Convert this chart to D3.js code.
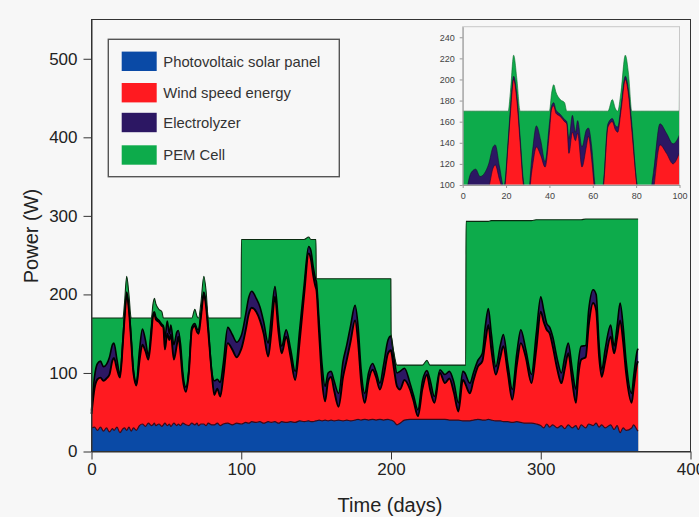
<!DOCTYPE html>
<html><head><meta charset="utf-8">
<script src="https://cdn.jsdelivr.net/npm/d3@7"></script>
<style>body{margin:0;background:#f7f7f7;} svg{display:block;}</style>
</head><body><svg id="c" width="699" height="517"></svg>
<script>
// ---- DATA ----
const days = [
  0,2,4,6,8,10,12,14,15,17,19,21,22,23.5,25,26.5,28,30,
  32,34,36,38,40,41,42,43,45,47,48,49,50.6,52,53,55,57,58,59.5,61,
  63,65,67,69,70.5,71.5,73,75,76.5,78,80.3,82,84,86,88,91,94,97,99.9,100.1,
  103,105,107,110,112.5,115,118,120,122.5,125,127,130,133,136,139,142,145,146.5,148,149.9,150.1,
  152,154,156,158,160,162,165,168,170.5,173,176,178,180,182.5,185,187.7,190,192.6,195,198,199.9,200.1,
  202,204,206,209,212.7,215,218,221,224,226,229,232.7,236,239,242,245,248,249.9,250.1,
  252.7,255,258,261,263,265,267,270,273,275,278,281,284,286.7,290,293.8,297,
  300,302,304,306,308,311,313.8,316,318.4,321,323.5,325,327,330,332,335,337,339,340.7,343,346.7,349,351,353,355,357,360.7,362,364.5,365
];
const solar = [
  30,31,27,31,26,30,25,29,27,31,24,29,30,27,31,26,30,27,
  33,35,32,36,33,34,36,33,35,32,34,36,33,35,32,36,33,35,33,36,
  34,33,36,34,36,33,35,35,33,36,34,34,36,33,35,36,34,36,35,35,
  37,36,38,37,38,36,38,37,38,36,38,37,38,37,39,38,39,38,38,39,39,
  40,39,40,39,40,39,40,39,40,39,40,41,40,41,40,41,40,41,40,41,40,40,
  38,34,36,40,41,41,41,41,41,41,41,41,41,40,40,40,39,39,39,
  39,40,41,40,40,41,40,39,39,38,38,37,38,37,36,36,35,
  33,30,35,31,34,30,33,29,34,30,33,28,34,30,35,33,36,31,34,30,34,28,33,24,30,27,30,34,27,26
];
const wind = [
  18,49,65,63,64,63,73,87,92,74,70,111,138,173,149,114,70,57,
  82,101,96,81,117,138,139,135,130,128,124,94,117,107,117,81,103,111,91,56,
  42,67,119,126,116,117,135,165,152,116,66,38,44,37,60,102,96,84,95,96,
  118,139,145,141,129,114,83,113,159,114,87,109,82,54,101,162,213,207,187,169,168,
  110,51,24,51,55,39,17,56,77,101,127,99,50,21,50,63,55,38,55,84,89,88,
  67,49,43,51,38,24,4,39,57,39,21,59,46,53,35,11,52,46,45,
  35,50,67,75,100,120,90,59,81,96,62,29,72,101,84,51,95,
  145,135,120,119,100,75,54,76,91,60,29,67,83,90,125,156,144,89,61,85,112,97,112,143,110,73,32,46,86,89
];
const electrolyzer = [
  4,15,20,21,18,18,22,20,19,12,4,3,4,3,4,5,4,4,
  13,20,14,5,8,3,3,3,2,2,2,14,16,8,12,19,16,8,12,8,
  6,4,3,3,4,5,4,3,4,6,2,18,12,18,17,20,19,19,17,17,
  20,21,21,17,17,15,17,20,13,12,9,9,10,11,15,12,9,11,11,10,10,
  15,20,19,10,7,12,17,20,19,20,19,20,15,12,10,8,7,8,15,17,18,18,
  15,17,23,15,8,7,8,10,5,12,8,4,11,9,13,11,11,13,13,
  13,10,8,10,20,21,20,10,15,15,12,13,15,17,10,11,20,
  19,15,8,8,12,13,13,15,13,15,17,17,17,15,20,17,20,15,9,15,15,9,15,22,20,15,12,15,16,16
];
const pemCell = [
  118,75,58,55,62,59,50,34,32,53,72,27,16,20,16,25,66,82,
  42,14,28,48,12,12,17,17,14,16,10,26,4,20,9,34,18,16,34,70,
  88,66,12,18,16,15,14,20,16,12,68,80,78,82,58,12,21,31,23,122,
  95,74,66,75,86,105,132,100,60,108,136,115,140,168,115,58,12,14,34,52,3,
  55,110,137,120,118,130,146,105,84,60,34,60,115,146,120,108,118,133,110,78,73,4,
  5,10,8,4,23,38,57,20,13,18,40,6,12,8,22,48,8,12,196,
  206,193,177,168,133,111,144,186,159,145,182,215,169,139,164,196,145,
  98,115,132,137,149,177,195,175,157,190,216,183,161,161,116,90,96,161,192,166,135,162,136,107,136,181,222,201,167,165
];
const seriesNames = ["Photovoltaic solar panel","Wind speed energy","Electrolyzer","PEM Cell"];
const yTicks = [0,100,200,300,400,500];
const xTicks = [0,100,200,300,400];
const insetYTicks = [100,120,140,160,180,200,220,240];
const insetXTicks = [0,20,40,60,80,100];

// ---- STYLE ----
const FONT = "'Liberation Sans', Arial, Helvetica, sans-serif";
const colors = ["#0a4aa6","#ff1a20","#2c1763","#0dab4b"];
const lineColors = ["#3b0a18","#000000","#000000","#0a2a10"];
const lineWidths = [1.2,1.9,1.6,1.1];
const BG = "#f7f7f7";

const svg = d3.select("#c");
svg.append("rect").attr("width",699).attr("height",517).attr("fill",BG);

const keys = ["solar","wind","electrolyzer","pem"];
const rows = days.map((d,i)=>({day:d, solar:solar[i], wind:wind[i], electrolyzer:electrolyzer[i], pem:pemCell[i]}));
const stacked = d3.stack().keys(keys)(rows);

// ---- MAIN CHART ----
const x = d3.scaleLinear().domain([0,400]).range([91.5,690.5]);
const y = d3.scaleLinear().domain([0,550]).range([451.5,19.5]);

const main = svg.append("g");
for (let i=3;i>=0;i--) {
  main.append("path").datum(stacked[i]).attr("fill",colors[i])
    .attr("d", d3.area().x(d=>x(d.data.day)).y0(y(0)).y1(d=>y(d[1])).curve(d3.curveMonotoneX));
}
for (let i=0;i<4;i++) {
  main.append("path").datum(stacked[i]).attr("fill","none")
    .attr("stroke",lineColors[i]).attr("stroke-width",lineWidths[i]).attr("stroke-linejoin","round")
    .attr("d", d3.line().x(d=>x(d.data.day)).y(d=>y(d[1])).curve(d3.curveMonotoneX));
}

// frame
svg.append("rect").attr("x",x(0)).attr("y",y(550)).attr("width",x(400)-x(0)).attr("height",y(0)-y(550))
  .attr("fill","none").attr("stroke","#333").attr("stroke-width",1);

const ya = svg.append("g").attr("transform",`translate(${x(0)},0)`)
  .call(d3.axisLeft(y).tickValues(yTicks).tickSize(8).tickSizeOuter(0).tickPadding(6).tickFormat(d3.format("d")));
ya.attr("font-family",FONT).attr("font-size",17);
ya.selectAll("text").attr("fill","#222");
ya.selectAll("line,path").attr("stroke","#333");

const xa = svg.append("g").attr("transform",`translate(0,${y(0)})`)
  .call(d3.axisBottom(x).tickValues(xTicks).tickSize(8).tickSizeOuter(0).tickPadding(3).tickFormat(d3.format("d")));
xa.attr("font-family",FONT).attr("font-size",17);
xa.selectAll("text").attr("fill","#222");
xa.selectAll("line,path").attr("stroke","#333");

svg.append("text").attr("transform","translate(38,236) rotate(-90)").attr("text-anchor","middle")
  .attr("font-family",FONT).attr("font-size",20).attr("fill","#222").text("Power (W)");
svg.append("text").attr("x",390).attr("y",512).attr("text-anchor","middle")
  .attr("font-family",FONT).attr("font-size",20).attr("fill","#222").text("Time (days)");

// ---- LEGEND ----
const lg = svg.append("g");
lg.append("rect").attr("x",108.3).attr("y",39.3).attr("width",231).attr("height",137.4)
  .attr("fill",BG).attr("stroke","#555").attr("stroke-width",1.4);
const rowY = [61.3,92.7,122.5,155];
seriesNames.forEach((n,i)=>{
  lg.append("rect").attr("x",121.7).attr("y",rowY[i]-9.7).attr("width",35).attr("height",19.4).attr("fill",colors[i]);
  lg.append("text").attr("x",163.3).attr("y",rowY[i]).attr("dy","0.36em")
    .attr("font-family",FONT).attr("font-size",14.8).attr("fill","#333").text(n);
});

// ---- INSET ----
const xi = d3.scaleLinear().domain([0,100]).range([462.7,679.5]);
const yi = d3.scaleLinear().domain([100,250]).range([185,26.7]);
const defs = svg.append("defs");
defs.append("clipPath").attr("id","insetClip").append("rect")
  .attr("x",xi(0)).attr("y",yi(250)).attr("width",xi(100)-xi(0)).attr("height",yi(100)-yi(250));
svg.append("rect").attr("x",xi(0)).attr("y",yi(250)).attr("width",xi(100)-xi(0)).attr("height",yi(100)-yi(250)).attr("fill",BG);
const ins = svg.append("g").attr("clip-path","url(#insetClip)");
for (let i=3;i>=0;i--) {
  ins.append("path").datum(stacked[i]).attr("fill",colors[i])
    .attr("d", d3.area().x(d=>xi(d.data.day)).y0(yi(100)).y1(d=>yi(d[1])).curve(d3.curveMonotoneX));
}
for (let i=1;i<4;i++) {
  ins.append("path").datum(stacked[i]).attr("fill","none")
    .attr("stroke", i===3 ? "#0a6a2a" : "#1a0a30").attr("stroke-width",0.6)
    .attr("d", d3.line().x(d=>xi(d.data.day)).y(d=>yi(d[1])).curve(d3.curveMonotoneX));
}
svg.append("rect").attr("x",xi(0)).attr("y",yi(250)).attr("width",xi(100)-xi(0)).attr("height",yi(100)-yi(250))
  .attr("fill","none").attr("stroke","#c8c8c8").attr("stroke-width",1);
const iya = svg.append("g").attr("transform",`translate(${xi(0)},0)`)
  .call(d3.axisLeft(yi).tickValues(insetYTicks).tickSize(3).tickSizeOuter(0).tickPadding(5).tickFormat(d3.format("d")));
iya.attr("font-family",FONT).attr("font-size",9);
iya.selectAll("text").attr("fill","#444");
iya.selectAll("line,path").attr("stroke","#999");
const ixa = svg.append("g").attr("transform",`translate(0,${yi(100)})`)
  .call(d3.axisBottom(xi).tickValues(insetXTicks).tickSize(3).tickSizeOuter(0).tickPadding(5).tickFormat(d3.format("d")));
ixa.attr("font-family",FONT).attr("font-size",9);
ixa.selectAll("text").attr("fill","#444");
ixa.selectAll("line,path").attr("stroke","#999");
</script>
</body></html>
